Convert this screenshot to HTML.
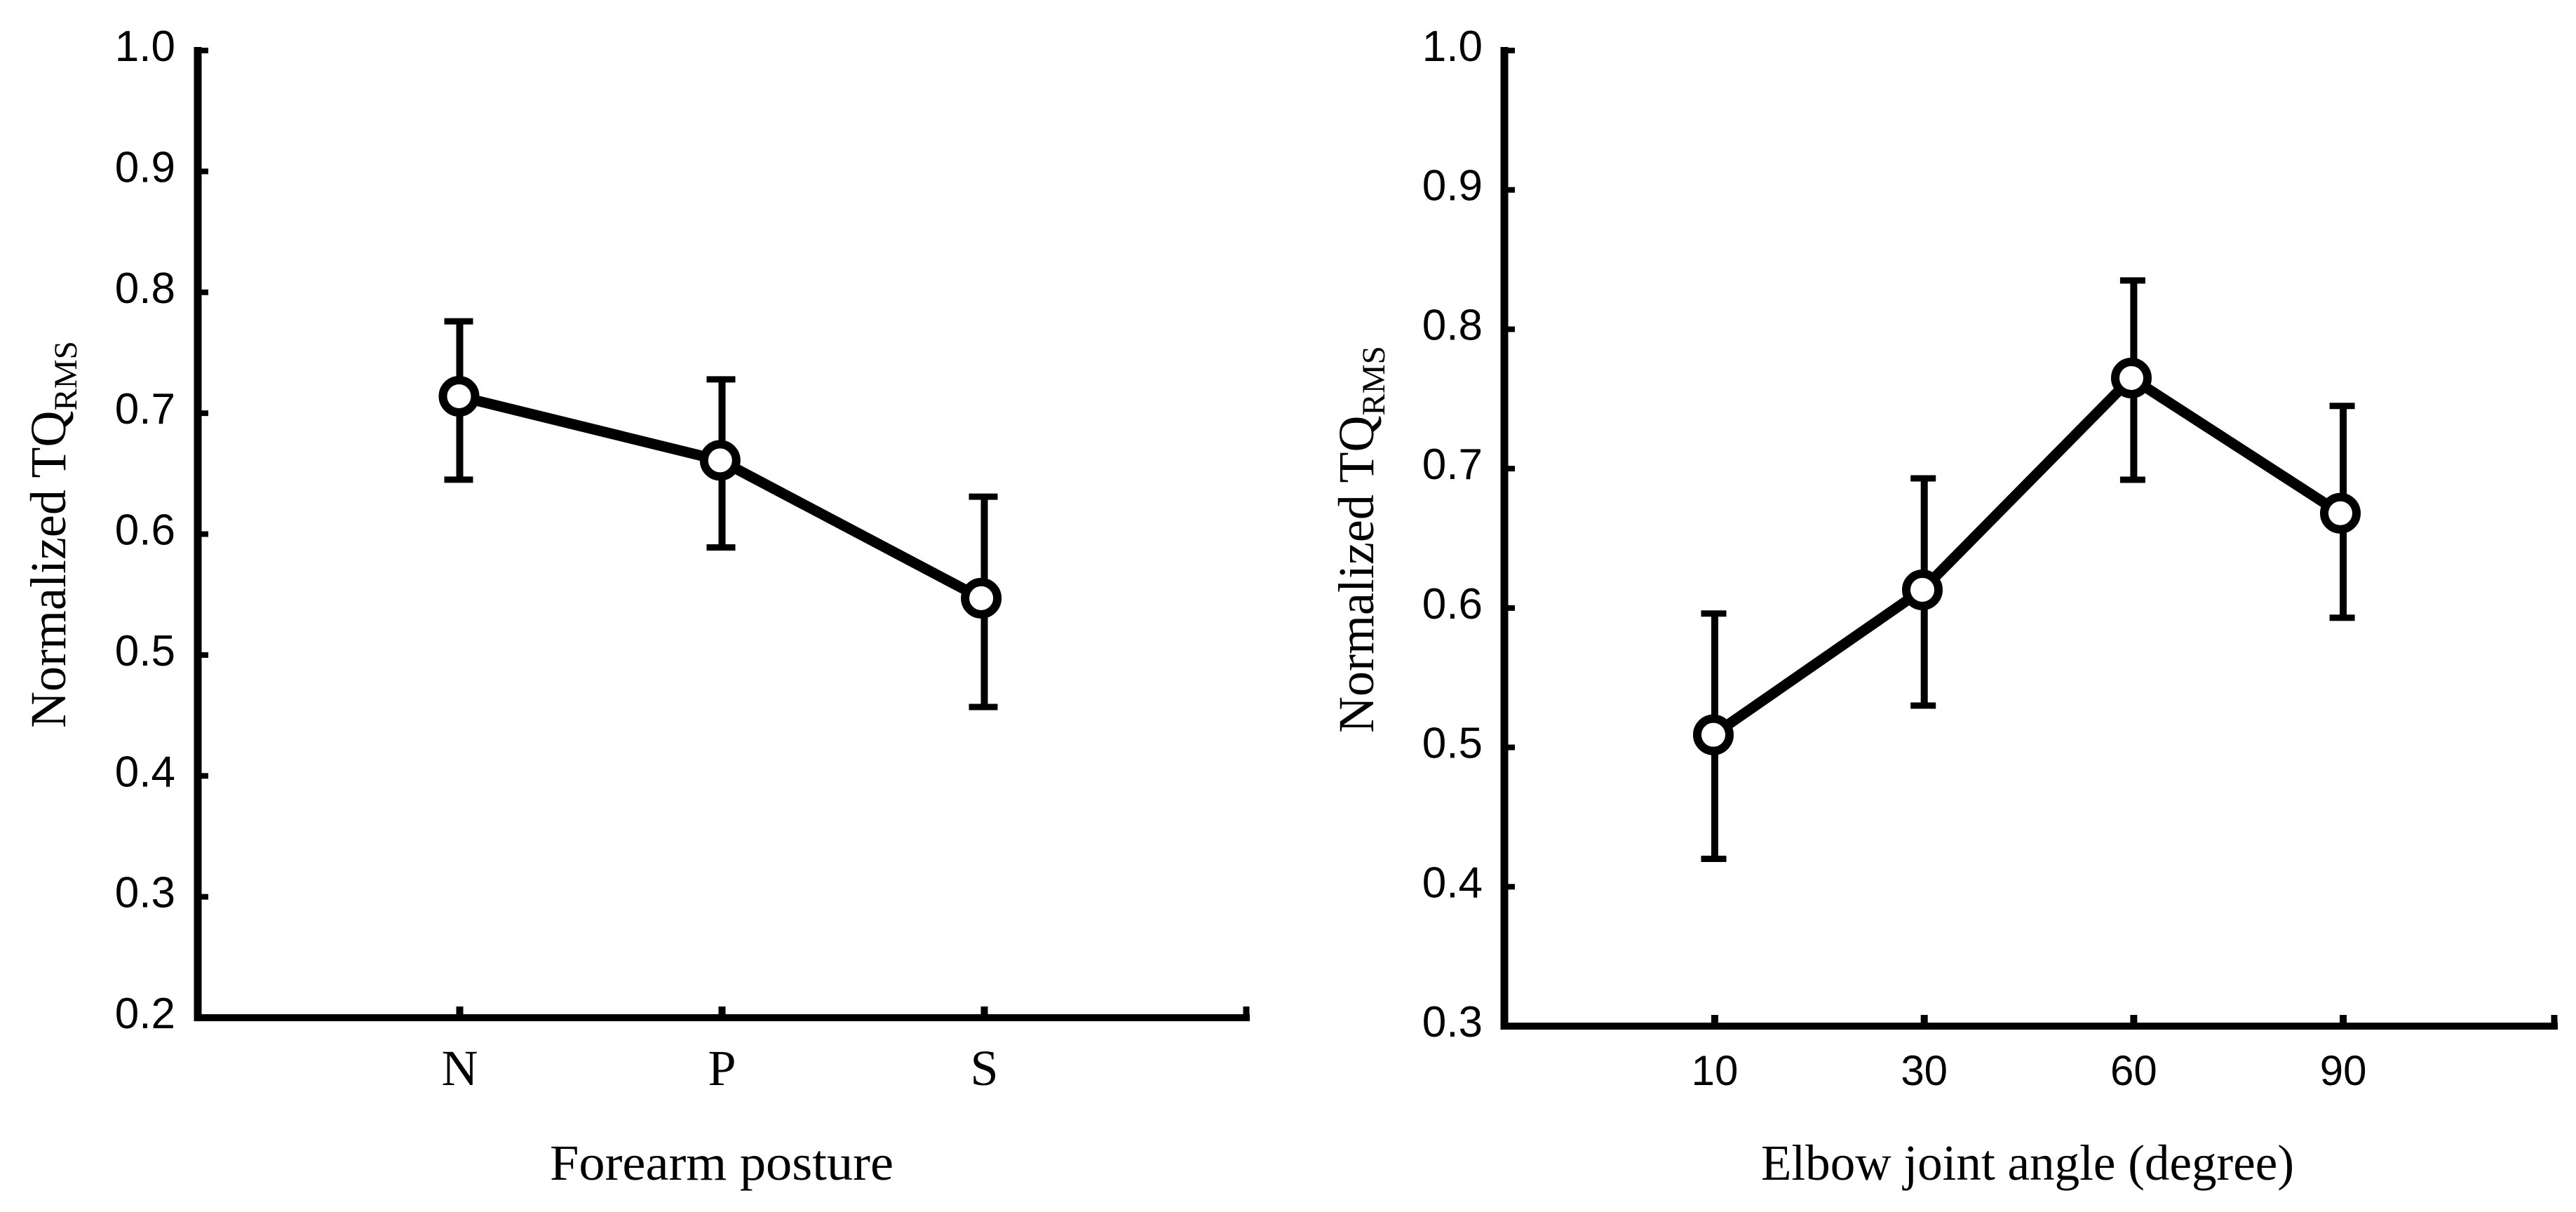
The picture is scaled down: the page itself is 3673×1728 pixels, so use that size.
<!DOCTYPE html>
<html lang="en">
<head>
<meta charset="utf-8">
<title>Normalized TQ RMS by forearm posture and elbow joint angle</title>
<style>
html,body{margin:0;padding:0;background:#fff;width:3673px;height:1728px;overflow:hidden}
svg{display:block}
.tick{font-family:"Liberation Sans",sans-serif;font-size:60px;fill:#000}
.ytick{font-family:"Liberation Sans",sans-serif;font-size:62px;fill:#000}
.serif{font-family:"Liberation Serif",serif;fill:#000}
</style>
</head>
<body>
<svg id="figure" xmlns="http://www.w3.org/2000/svg" width="3673" height="1728" viewBox="0 0 3673 1728">
  <rect width="3673" height="1728" fill="#fff"/>
  <g id="left-chart"></g>
  <g id="right-chart"></g>
  <text class="serif" transform="translate(93 1038) rotate(-90)" font-size="72">Normalized TQ<tspan dy="16" font-size="47">RMS</tspan></text>
  <text class="serif" x="784" y="1682" font-size="72" textLength="490" lengthAdjust="spacingAndGlyphs">Forearm posture</text>
  <text class="serif" transform="translate(1958 1045) rotate(-90)" font-size="72">Normalized TQ<tspan dy="16" font-size="47">RMS</tspan></text>
  <text class="serif" x="2511" y="1682" font-size="72" textLength="760" lengthAdjust="spacingAndGlyphs">Elbow joint angle (degree)</text>
</svg>
<script>
const leftCategories = ['N', 'P', 'S'];
const leftMeans = [0.714, 0.661, 0.547];
const leftUpper = [0.776, 0.728, 0.631];
const leftLower = [0.645, 0.589, 0.457];
const leftYTicks = ['0.2', '0.3', '0.4', '0.5', '0.6', '0.7', '0.8', '0.9', '1.0'];

const rightCategories = ['10', '30', '60', '90'];
const rightMeans = [0.509, 0.613, 0.765, 0.668];
const rightUpper = [0.596, 0.693, 0.835, 0.745];
const rightLower = [0.420, 0.530, 0.692, 0.593];
const rightYTicks = ['0.3', '0.4', '0.5', '0.6', '0.7', '0.8', '0.9', '1.0'];

const SVG_NS = 'http://www.w3.org/2000/svg';

function make(parent, tag, attrs, text) {
  const el = document.createElementNS(SVG_NS, tag);
  for (const key in attrs) el.setAttribute(key, attrs[key]);
  if (text !== undefined) el.textContent = text;
  parent.appendChild(el);
  return el;
}

function drawChart(root, prefix, layout, categories, means, upper, lower, yTicks, categoryClass) {
  const yMin = parseFloat(yTicks[0]);
  const yMax = parseFloat(yTicks[yTicks.length - 1]);
  const yScale = v => layout.yBottom - (v - yMin) / (yMax - yMin) * (layout.yBottom - layout.yTop);
  const xScale = i => layout.xFirst + i * layout.xStep;
  const markerX = i => layout.markerFirst + i * layout.markerStep;

  const yAxis = make(root, 'line', {x1: layout.axisX, x2: layout.axisX, y1: layout.yTop - 5, y2: layout.yBottom + 5, stroke: '#000', 'stroke-width': 11});
  
  

  const xAxis = make(root, 'line', {x1: layout.axisX - 5, x2: layout.xEnd + 5, y1: layout.yBottom, y2: layout.yBottom, stroke: '#000', 'stroke-width': 10});
  
  

  const xEndTick = make(root, 'line', {x1: layout.xEnd, x2: layout.xEnd, y1: layout.yBottom - 16, y2: layout.yBottom + 5, stroke: '#000', 'stroke-width': 9});
  
  

  yTicks.forEach(label => {
    const y = yScale(parseFloat(label));
    const tick = make(root, 'line', {x1: layout.axisX, x2: layout.axisX + 15, y1: y, y2: y, stroke: '#000', 'stroke-width': 8});
    
    
    const text = make(root, 'text', {x: layout.yLabelX, y: y + 15, 'text-anchor': 'end', class: 'ytick'}, label);
    
    
  });

  categories.forEach((label, i) => {
    const x = xScale(i);
    const tick = make(root, 'line', {x1: x, x2: x, y1: layout.yBottom - 16, y2: layout.yBottom, stroke: '#000', 'stroke-width': 10});
    
    
    const text = make(root, 'text', {x: x, y: 1547, 'text-anchor': 'middle', class: categoryClass}, label);
    if (categoryClass === 'serif') text.setAttribute('font-size', '72');
    
    
  });

  const pointList = means.map((v, i) => markerX(i) + ',' + yScale(v)).join(' ');
  const series = make(root, 'polyline', {points: pointList, fill: 'none', stroke: '#000', 'stroke-width': 15, 'stroke-linejoin': 'miter'});
  
  

  means.forEach((v, i) => {
    const x = xScale(i);
    const bar = make(root, 'line', {x1: x, x2: x, y1: yScale(upper[i]), y2: yScale(lower[i]), stroke: '#000', 'stroke-width': 10});
    
    
    const capTop = make(root, 'line', {x1: x - 1.5 - layout.capHalf, x2: x - 1.5 + layout.capHalf, y1: yScale(upper[i]), y2: yScale(upper[i]), stroke: '#000', 'stroke-width': 9});
    
    
    const capBottom = make(root, 'line', {x1: x - 1.5 - layout.capHalf, x2: x - 1.5 + layout.capHalf, y1: yScale(lower[i]), y2: yScale(lower[i]), stroke: '#000', 'stroke-width': 9});
    
    
    const marker = make(root, 'circle', {cx: markerX(i), cy: yScale(v), r: 23, fill: '#fff', stroke: '#000', 'stroke-width': 12});
    
    
  });
}

drawChart(document.getElementById('left-chart'), 'left',
  {axisX: 282, yTop: 72, yBottom: 1451, xFirst: 655.5, xStep: 374, xEnd: 1777, yLabelX: 250, markerFirst: 654.5, markerStep: 372.3, capHalf: 20.5},
  leftCategories, leftMeans, leftUpper, leftLower, leftYTicks, 'serif');

drawChart(document.getElementById('right-chart'), 'right',
  {axisX: 2145, yTop: 72, yBottom: 1463, xFirst: 2445, xStep: 298.7, xEnd: 3642, yLabelX: 2114, markerFirst: 2443, markerStep: 298, capHalf: 18},
  rightCategories, rightMeans, rightUpper, rightLower, rightYTicks, 'tick');
</script>
</body>
</html>
